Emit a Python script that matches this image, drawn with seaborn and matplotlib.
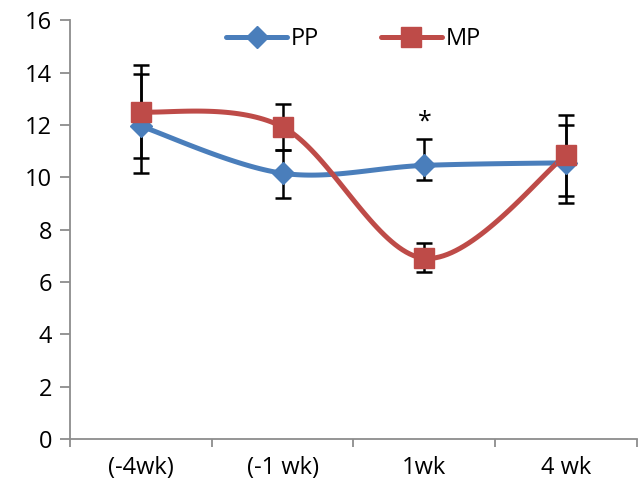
import numpy as np
import pandas as pd
import matplotlib
matplotlib.use('Agg')
import matplotlib.pyplot as plt
import seaborn as sns

categories = ['(-4wk)', '(-1 wk)', '1wk', '4 wk']
pp_mean = [11.95, 10.15, 10.45, 10.55]
pp_err_low = [1.8, 0.93, 0.55, 1.55]
pp_err_high = [2.0, 0.9, 1.0, 1.45]
mp_mean = [12.5, 11.92, 6.9, 10.84]
mp_err_low = [1.78, 0.9, 0.52, 1.55]
mp_err_high = [1.8, 0.89, 0.57, 1.53]

blue = '#4A7EBB'
red = '#BE4B48'

sns.set_theme(style='white')
plt.rcParams['font.family'] = ['Open Sans', 'DejaVu Sans']
plt.rcParams['text.color'] = 'black'
plt.rcParams['xtick.color'] = 'black'
plt.rcParams['ytick.color'] = 'black'

df = pd.DataFrame({'x': list(range(4)) * 2,
                   'value': pp_mean + mp_mean,
                   'group': ['PP'] * 4 + ['MP'] * 4})


def smooth(xs, ys, n=40):
    # excel style smoothed line (bezier, control pts from neighbours)
    pts = np.column_stack([xs, ys]).astype(float)
    out = []
    for i in range(len(pts) - 1):
        p0 = pts[max(i - 1, 0)]
        p1 = pts[i]
        p2 = pts[i + 1]
        p3 = pts[min(i + 2, len(pts) - 1)]
        c1 = p1 + (p2 - p0) / 6
        c2 = p2 - (p3 - p1) / 6
        t = np.linspace(0, 1, n)[:, None]
        seg = ((1 - t) ** 3) * p1 + 3 * ((1 - t) ** 2) * t * c1 + 3 * (1 - t) * t ** 2 * c2 + t ** 3 * p2
        out.append(seg if i == 0 else seg[1:])
    out = np.vstack(out)
    return out[:, 0], out[:, 1]


fig = plt.figure(figsize=(6.42, 4.92), dpi=100)
ax = fig.add_axes([0.109, 0.108, 0.883, 0.851])

x = np.arange(4)
for name, mean, lo, hi, col, mk, ms in [('PP', pp_mean, pp_err_low, pp_err_high, blue, 'D', 11),
                                        ('MP', mp_mean, mp_err_low, mp_err_high, red, 's', 14)]:
    ax.errorbar(x, mean, yerr=[lo, hi], fmt='none', ecolor='black', elinewidth=1.8,
                capsize=6, capthick=1.8, zorder=2)
    sx, sy = smooth(x, mean)
    sns.lineplot(x=sx, y=sy, color=col, linewidth=3.6, ax=ax, zorder=3, sort=False)
    sub = df[df['group'] == name]
    ax.plot(sub['x'], sub['value'], linestyle='none', marker=mk, markersize=ms,
            color=col, markeredgecolor=col, zorder=4)

# legend proxies
ax.plot([], [], color=blue, lw=3.6, marker='D', markersize=11, label='PP')
ax.plot([], [], color=red, lw=3.6, marker='s', markersize=14, label='MP')
ax.legend(loc='upper center', ncol=2, frameon=False, fontsize=17,
          bbox_to_anchor=(0.5, 1.035), handlelength=2.6, columnspacing=2.6,
          handletextpad=0.15)

ax.text(2, 12.1, '*', ha='center', va='center', fontsize=18)

ax.set_xlim(-0.5, 3.5)
ax.set_ylim(0, 16)
ax.set_yticks(range(0, 17, 2))
ax.set_xticks(x)
ax.set_xticklabels(categories)
ax.set_xticks(np.arange(-0.5, 3.6, 1), minor=True)
ax.tick_params(axis='x', which='major', length=0, pad=12, labelsize=17)
ax.tick_params(axis='x', which='minor', length=6, width=1.3, color='#8C8C8C', direction='out')
ax.tick_params(axis='y', length=7, width=1.3, color='#8C8C8C', direction='out', labelsize=17, pad=6)
ax.tick_params(bottom=True, left=True, which='both')
for s in ['top', 'right']:
    ax.spines[s].set_visible(False)
for s in ['left', 'bottom']:
    ax.spines[s].set_color('#8C8C8C')
    ax.spines[s].set_linewidth(1.3)
ax.set_xlabel('')
ax.set_ylabel('')

fig.savefig('out.png', dpi=100)
